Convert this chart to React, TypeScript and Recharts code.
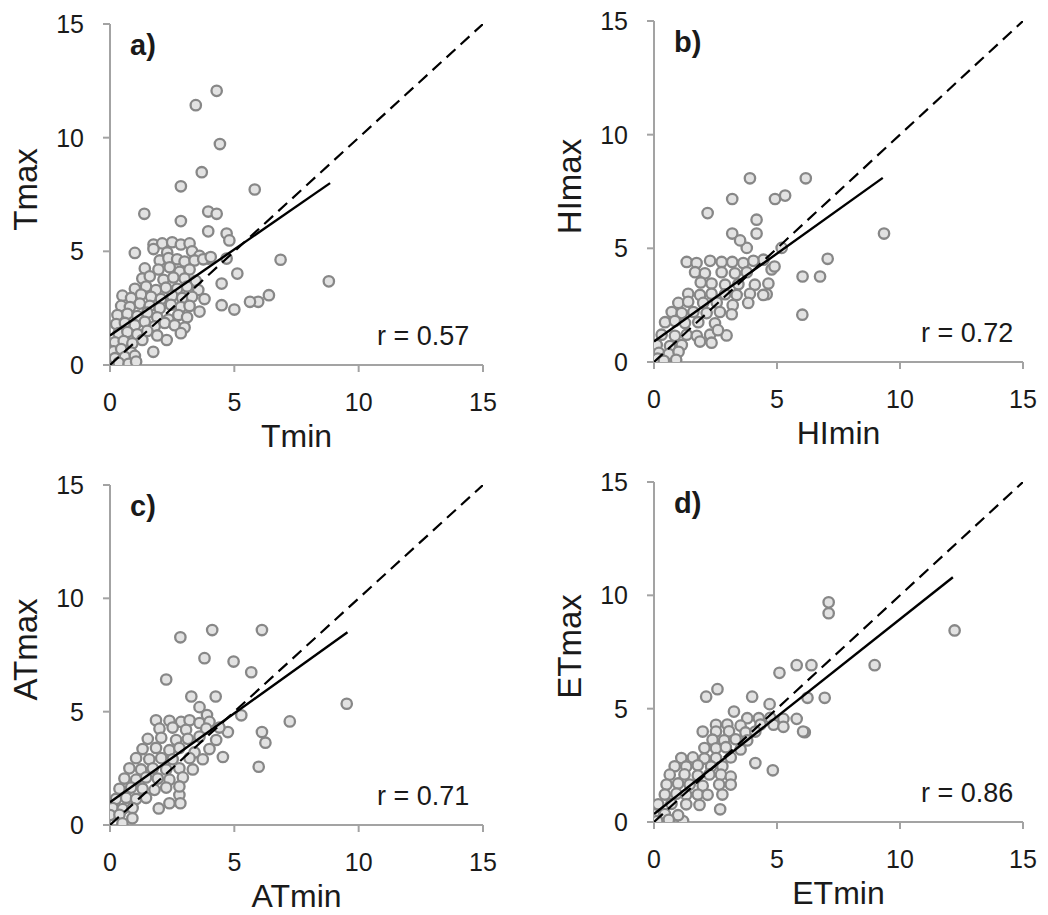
import React from 'react';
import { ScatterChart, Scatter, XAxis, YAxis } from 'recharts';

// axis ticks shared by every panel
const axisTicks = [0, 5, 10, 15];

// a) Tmin vs Tmax
const pointsA: [number, number][] = [
  [4.29, 12.06], [3.45, 11.43], [4.42, 9.72], [3.69, 8.48], [2.85, 7.86], [5.82, 7.72],
  [1.38, 6.65], [2.85, 6.33], [3.95, 6.75], [4.29, 6.65], [3.95, 5.88], [4.69, 5.78],
  [4.8, 5.48], [1.0, 4.93], [6.86, 4.63], [5.12, 4.02], [8.8, 3.68], [4.49, 3.58],
  [6.39, 3.07], [5.96, 2.78], [5.63, 2.78], [4.49, 2.63], [5.0, 2.44], [2.28, 1.1],
  [1.74, 0.58], [3.95, 4.68], [4.69, 4.68],
  [1.75, 5.3], [2.1, 5.35], [2.5, 5.4], [2.85, 5.3], [3.2, 5.35],
  [1.75, 5.1], [2.3, 4.95], [3.3, 5.0], [3.6, 4.8],
  [2.0, 4.6], [2.35, 4.7], [2.7, 4.65], [3.0, 4.55], [3.4, 4.6], [3.75, 4.65], [4.05, 4.75],
  [1.4, 4.25], [1.95, 4.2], [2.4, 4.3], [2.8, 4.1], [3.2, 4.2],
  [1.3, 3.8], [1.6, 3.9], [2.15, 3.75], [2.55, 3.85], [3.0, 3.8], [3.45, 3.7],
  [1.0, 3.35], [1.45, 3.45], [1.85, 3.3], [2.25, 3.4], [2.7, 3.35], [3.1, 3.45], [3.55, 3.3],
  [0.5, 3.05], [0.85, 2.95], [1.25, 3.1], [1.65, 3.0], [2.05, 2.9], [2.5, 3.05], [2.9, 2.95], [3.3, 3.0], [3.8, 2.9],
  [0.45, 2.6], [0.8, 2.55], [1.2, 2.7], [1.6, 2.6], [2.0, 2.5], [2.45, 2.65], [2.85, 2.55], [3.2, 2.6], [3.6, 2.35],
  [0.3, 2.2], [0.7, 2.25], [1.1, 2.15], [1.5, 2.3], [1.9, 2.1], [2.35, 2.0], [2.75, 2.2], [3.1, 2.1],
  [0.25, 1.8], [0.6, 1.85], [1.0, 1.75], [1.4, 1.9], [1.8, 1.7], [2.2, 1.85], [2.6, 1.75], [3.0, 1.65], [2.85, 1.4],
  [0.35, 1.4], [0.7, 1.45], [1.1, 1.35], [1.5, 1.5], [1.9, 1.3],
  [0.2, 1.0], [0.55, 1.05], [0.9, 0.95], [1.3, 1.1],
  [0.15, 0.6], [0.45, 0.7], [0.85, 0.55],
  [0.2, 0.3], [0.6, 0.35], [1.0, 0.4],
  [0.35, 0.1], [0.75, 0.05], [1.05, 0.15],
];

// b) HImin vs HImax
const pointsB: [number, number][] = [
  [3.9, 8.08], [6.17, 8.08], [3.18, 7.17], [4.92, 7.17], [5.33, 7.32], [2.18, 6.55],
  [4.17, 6.26], [4.17, 5.65], [3.18, 5.65], [9.35, 5.65], [3.77, 5.02], [5.19, 5.02],
  [7.06, 4.54], [6.04, 3.76], [6.75, 3.76], [6.03, 2.08], [4.78, 4.07], [4.58, 2.98],
  [2.95, 1.17], [3.5, 5.35], [4.45, 4.5], [4.9, 4.2],
  [1.33, 4.4], [1.73, 4.35], [2.28, 4.45], [2.75, 4.4], [3.18, 4.4], [3.63, 4.35], [4.04, 4.45],
  [1.67, 3.95], [2.07, 3.9], [2.75, 3.95], [3.29, 3.9], [3.77, 3.95],
  [1.9, 3.5], [2.34, 3.45], [2.89, 3.4], [3.43, 3.42], [4.1, 3.4], [4.65, 3.45],
  [1.39, 3.0], [1.87, 2.95], [2.34, 3.0], [2.89, 2.98], [3.36, 2.95], [3.9, 3.0], [4.44, 2.95],
  [0.99, 2.6], [1.39, 2.65], [2.0, 2.6], [2.55, 2.62], [3.2, 2.5], [3.83, 2.6],
  [0.72, 2.2], [1.13, 2.15], [1.6, 2.2], [2.14, 2.15], [2.68, 2.2], [3.16, 2.1],
  [0.45, 1.75], [0.85, 1.8], [1.26, 1.72], [1.8, 1.75], [2.48, 1.7],
  [0.31, 1.2], [0.85, 1.15], [1.33, 1.2], [1.74, 1.15], [2.28, 1.2], [2.6, 1.4],
  [0.11, 0.75], [0.65, 0.7], [1.13, 0.75], [1.87, 0.9], [2.34, 0.85],
  [0.2, 0.4], [0.6, 0.35], [1.0, 0.45],
  [0.15, 0.15], [0.4, 0.05], [0.9, 0.1],
];

// c) ATmin vs ATmax
const pointsC: [number, number][] = [
  [2.83, 8.28], [4.11, 8.6], [6.11, 8.6], [3.8, 7.36], [4.97, 7.21], [5.68, 6.74],
  [2.26, 6.42], [3.27, 5.67], [4.25, 5.67], [9.52, 5.35], [5.28, 4.84], [7.23, 4.57],
  [6.11, 4.1], [6.25, 3.63], [5.98, 2.57], [4.74, 4.1], [4.54, 3.0], [1.96, 0.73],
  [2.39, 0.96], [2.79, 1.32], [2.83, 0.96],
  [3.6, 5.2], [3.9, 4.85],
  [1.85, 4.62], [2.39, 4.6], [2.86, 4.55], [3.2, 4.62], [3.6, 4.5], [4.0, 4.55],
  [1.99, 4.25], [2.52, 4.3], [3.06, 4.2], [3.87, 4.25], [4.4, 4.3],
  [1.52, 3.8], [2.06, 3.85], [2.66, 3.75], [3.13, 3.8], [3.6, 3.9], [4.27, 3.75],
  [1.31, 3.35], [1.85, 3.4], [2.39, 3.3], [2.79, 3.4], [3.4, 3.2], [4.0, 3.35],
  [1.05, 2.95], [1.58, 2.9], [2.06, 2.95], [2.52, 2.9], [3.2, 2.95], [3.73, 2.9],
  [0.78, 2.5], [1.25, 2.45], [1.72, 2.5], [2.26, 2.45], [2.79, 2.5], [3.33, 2.45],
  [0.58, 2.05], [1.05, 2.0], [1.45, 2.1], [1.92, 2.05], [2.39, 2.0], [2.93, 2.1],
  [0.38, 1.6], [0.85, 1.65], [1.31, 1.6], [1.79, 1.55], [2.26, 1.65], [2.79, 1.7],
  [0.24, 1.15], [0.65, 1.2], [1.05, 1.15], [1.45, 1.2],
  [0.1, 0.75], [0.51, 0.7], [0.91, 0.75],
  [0.0, 0.44], [0.38, 0.45], [0.9, 0.3], [0.5, 0.07],
];

// d) ETmin vs ETmax
const pointsD: [number, number][] = [
  [7.1, 9.69], [7.1, 9.21], [12.22, 8.45], [8.97, 6.92], [5.8, 6.92], [6.4, 6.92],
  [5.1, 6.58], [2.12, 5.53], [2.58, 5.86], [3.99, 5.53], [4.7, 5.2], [6.24, 5.48],
  [6.94, 5.48], [6.13, 3.96], [4.12, 2.6], [4.83, 2.28], [2.69, 0.56], [1.18, 0.04],
  [3.25, 4.87],
  [3.79, 4.58], [4.26, 4.58], [4.73, 4.6], [5.26, 4.55], [5.8, 4.55],
  [2.52, 4.29], [2.98, 4.3], [3.52, 4.25], [4.33, 4.3], [4.86, 4.29], [5.26, 4.2], [6.06, 3.99],
  [1.98, 3.99], [2.52, 3.99], [3.05, 4.0], [3.72, 3.95], [4.12, 3.99],
  [2.38, 3.63], [2.85, 3.6], [3.32, 3.65], [3.79, 3.6],
  [2.05, 3.26], [2.52, 3.25], [2.92, 3.3], [3.52, 3.2],
  [1.11, 2.82], [1.58, 2.85], [2.05, 2.8], [2.52, 2.82], [3.12, 2.85],
  [0.84, 2.46], [1.31, 2.45], [1.78, 2.5], [2.32, 2.45], [2.78, 2.46],
  [0.64, 2.09], [1.24, 2.1], [1.78, 2.05], [2.25, 2.1], [2.72, 2.09], [3.12, 2.0],
  [0.51, 1.65], [0.98, 1.7], [1.45, 1.65], [1.98, 1.6], [2.65, 1.65], [3.12, 1.65],
  [0.44, 1.21], [0.91, 1.25], [1.31, 1.2], [1.78, 1.21], [2.18, 1.2], [2.78, 1.21],
  [0.17, 0.78], [0.71, 0.8], [1.31, 0.78], [1.85, 0.75],
  [0.0, 0.34], [0.44, 0.35], [0.98, 0.3],
  [0.13, 0.04], [0.6, 0.1],
];

// regression line end points [x0, y0, x1, y1]
const fitA = [0, 1.3, 8.85, 8.0];
const fitB = [0, 0.9, 9.3, 8.1];
const fitC = [0, 1.0, 9.55, 8.5];
const fitD = [0, 0.35, 12.15, 10.8];

// 1:1 line
const identity = [0, 0, 15, 15];

const FONT = '"Liberation Sans", Arial, Helvetica, sans-serif';
const AXIS = '#a3a3a3';

const Marker = (props: any) => (
  <circle cx={props.cx} cy={props.cy} r={5.2} fill="#e2e2e2" stroke="#878787" strokeWidth={2.3} />
);

const NoMarker = () => <g />;

const segment = (s: number[]) => [{ x: s[0], y: s[1] }, { x: s[2], y: s[3] }];

interface PanelProps {
  points: [number, number][];
  fit: number[];
  letter: string;
  xName: string;
  yName: string;
  r: string;
  plotLeft: number;
  plotTop: number;
  plotW: number;
  plotH: number;
}

const Panel = ({ points, fit, letter, xName, yName, r, plotLeft, plotTop, plotW, plotH }: PanelProps) => {
  const data = points.map(([x, y]) => ({ x, y }));
  const width = 110 + plotW + 20;
  const height = 24 + plotH + 60;
  const textBase: React.CSSProperties = { position: 'absolute', fontFamily: FONT, color: '#1a1a1a', whiteSpace: 'nowrap', lineHeight: 1 };

  return (
    <>
      <div style={{ position: 'absolute', left: plotLeft - 110, top: plotTop - 24 }}>
        <ScatterChart width={width} height={height} margin={{ top: 24, right: 20, left: 50, bottom: 10 }}>
          <XAxis
            type="number"
            dataKey="x"
            domain={[0, 15]}
            ticks={axisTicks}
            allowDataOverflow
            height={50}
            stroke={AXIS}
            axisLine={{ stroke: AXIS, strokeWidth: 2 }}
            tickLine={{ stroke: AXIS, strokeWidth: 2 }}
            tickSize={7}
            tickMargin={21}
            tick={{ fill: '#1a1a1a', fontSize: 25, fontFamily: FONT }}
          />
          <YAxis
            type="number"
            dataKey="y"
            domain={[0, 15]}
            ticks={axisTicks}
            allowDataOverflow
            width={60}
            stroke={AXIS}
            axisLine={{ stroke: AXIS, strokeWidth: 2 }}
            tickLine={{ stroke: AXIS, strokeWidth: 2 }}
            tickSize={7}
            tickMargin={19}
            tick={{ fill: '#1a1a1a', fontSize: 25, fontFamily: FONT }}
          />
          <Scatter data={data} shape={<Marker />} isAnimationActive={false} />
          <Scatter
            data={segment(identity)}
            shape={<NoMarker />}
            line={{ stroke: '#000', strokeWidth: 2.2, strokeDasharray: '12 7' }}
            isAnimationActive={false}
          />
          <Scatter
            data={segment(fit)}
            shape={<NoMarker />}
            line={{ stroke: '#000', strokeWidth: 2.4 }}
            isAnimationActive={false}
          />
        </ScatterChart>
      </div>

      <div style={{ ...textBase, left: plotLeft + 20, top: plotTop + 7, fontSize: 29, fontWeight: 'bold' }}>{letter}</div>
      <div style={{ ...textBase, left: plotLeft + plotW / 2, top: plotTop + plotH + 55, fontSize: 32, transform: 'translateX(-50%)' }}>
        {xName}
      </div>
      <div
        style={{
          ...textBase,
          left: plotLeft - 85,
          top: plotTop + plotH / 2 - 22,
          fontSize: 33,
          transform: 'translate(-50%, 0) rotate(-90deg)',
          transformOrigin: '50% 50%',
        }}
      >
        {yName}
      </div>
      <div style={{ ...textBase, left: plotLeft + 267, top: plotTop + plotH - 42, fontSize: 27 }}>{r}</div>
    </>
  );
};

export default function App() {
  return (
    <div style={{ position: 'absolute', left: 0, top: 0, width: 1048, height: 915, background: '#fff', overflow: 'hidden' }}>
      <Panel points={pointsA} fit={fitA} letter="a)" xName="Tmin" yName="Tmax" r="r = 0.57" plotLeft={110} plotTop={24} plotW={373} plotH={341} />
      <Panel points={pointsB} fit={fitB} letter="b)" xName="HImin" yName="HImax" r="r = 0.72" plotLeft={654} plotTop={21} plotW={369} plotH={341} />
      <Panel points={pointsC} fit={fitC} letter="c)" xName="ATmin" yName="ATmax" r="r = 0.71" plotLeft={110} plotTop={485} plotW={373} plotH={340} />
      <Panel points={pointsD} fit={fitD} letter="d)" xName="ETmin" yName="ETmax" r="r = 0.86" plotLeft={654} plotTop={482} plotW={369} plotH={340} />
    </div>
  );
}
